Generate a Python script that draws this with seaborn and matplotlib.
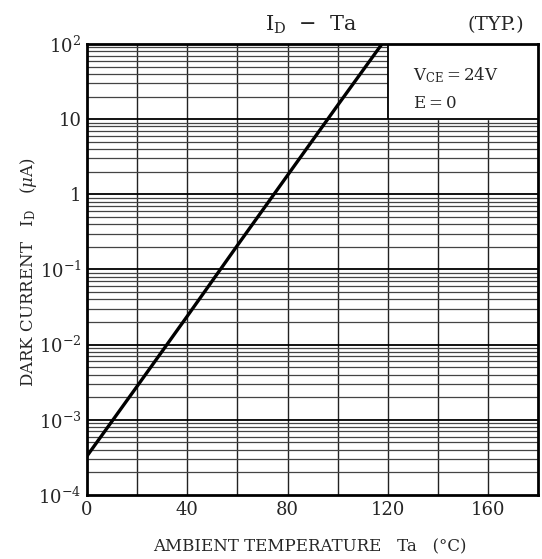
import numpy as np
import matplotlib
matplotlib.use("Agg")
import matplotlib.pyplot as plt
import matplotlib.ticker as mticker
import seaborn as sns

# values (straight line on log scale)
temp_c = [0, 20, 40, 60, 80, 100, 117.6]
dark_current_ua = [3.3e-4, 2.8e-3, 2.4e-2, 0.21, 1.8, 15.4, 100]

x_ticks = [0, 40, 80, 120, 160]
y_ticks = [1e-4, 1e-3, 1e-2, 1e-1, 1, 10, 100]
y_tick_labels = ["$10^{-4}$", "$10^{-3}$", "$10^{-2}$", "$10^{-1}$", "1", "10", "$10^{2}$"]

sns.set_style("white")
plt.rcParams["font.family"] = ["DejaVu Serif"]
plt.rcParams["mathtext.fontset"] = "dejavuserif"

fig = plt.figure(figsize=(5.42, 5.59), dpi=100)
ax = fig.add_axes([0.1605, 0.1145, 0.8330, 0.8068])

ax.set_yscale("log")
ax.set_xlim(0, 180)
ax.set_ylim(1e-4, 1e2)

# grid
for x in range(20, 180, 20):
    ax.axvline(x, color="#222222", lw=1.0, zorder=1)
for dec in range(-4, 2):
    for m in range(2, 10):
        ax.axhline(m * 10.0 ** dec, color="#444444", lw=0.9, zorder=1)
    if dec > -4:
        ax.axhline(10.0 ** dec, color="black", lw=1.3, zorder=1)

# condition box (white patch over the grid)
ax.fill_between([120, 180], 10, 100, color="white", zorder=2)
ax.plot([120, 120, 180], [100, 10, 10], color="black", lw=1.3, zorder=3)
ax.text(130, 38, "V$_{\\rm CE}$$=$24V", fontsize=12, va="center", zorder=4)
ax.text(130, 16, "E$=$0", fontsize=12, va="center", zorder=4)

sns.lineplot(x=temp_c, y=dark_current_ua, color="black", lw=2.4, ax=ax, zorder=5)

ax.set_xticks(x_ticks)
ax.set_xticklabels([str(t) for t in x_ticks], fontsize=13)
ax.set_yticks(y_ticks)
ax.set_yticklabels(y_tick_labels, fontsize=13)
ax.yaxis.set_minor_locator(mticker.NullLocator())
ax.tick_params(axis="both", length=0, pad=4)

for s in ax.spines.values():
    s.set_linewidth(2)
    s.set_color("black")
    s.set_zorder(6)

fig.text(310 / 542, 1 - 547 / 559, "AMBIENT TEMPERATURE   Ta   (°C)",
         fontsize=12, ha="center", va="center")
fig.text(29 / 542, 1 - 272 / 559, "DARK CURRENT   I$_{\\rm D}$   ($\\mu$A)",
         fontsize=12, ha="center", va="center", rotation=90)

fig.text(0.575, 0.955, "I$_{\\rm D}$  $-$  Ta", fontsize=15, ha="center", va="center")
fig.text(0.915, 0.955, "(TYP.)", fontsize=14, ha="center", va="center")

fig.savefig("out.png", dpi=100)
